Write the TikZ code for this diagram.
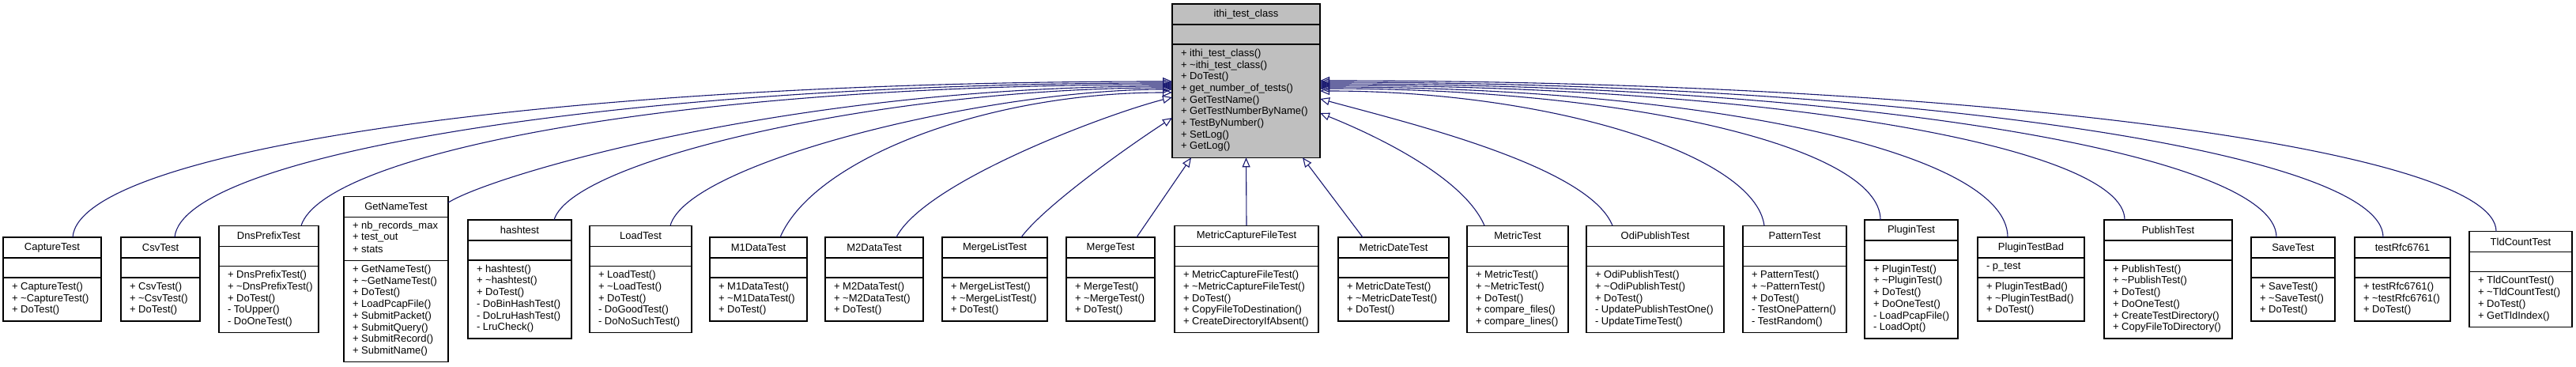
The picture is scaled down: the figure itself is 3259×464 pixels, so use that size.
\documentclass[tikz,border=0pt]{standalone}
\usepackage{fontspec}
\setmainfont{Liberation Sans}
\usetikzlibrary{calc,arrows.meta}
\definecolor{edgec}{HTML}{191970}
\definecolor{basefill}{HTML}{BFBFBF}
\newcommand\tld{\textasciitilde}
\tikzset{
  clsbox/.style={draw=black,line width=0.65pt,fill=white,inner sep=0pt,outer sep=0pt,rectangle},
  clsline/.style={draw=black,line width=0.65pt},
  clstitle/.style={inner sep=0pt,outer sep=0pt,anchor=center,font=\fontsize{6.5pt}{7.35pt}\selectfont},
  clsmem/.style={inner sep=0pt,outer sep=0pt,anchor=west,font=\fontsize{6.5pt}{7.35pt}\selectfont},
  inh/.style={draw=edgec,line width=0.55pt,-{Triangle[open,length=6pt,width=5pt]}}
}
% #1 options, #2 name, #3 centre, #4 width, #5 second separator, #6 number of methods, #7 title, #8 attributes, #9 methods
\newcommand\umlclass[9][]{%
  \node[clsbox,#1,minimum width={0.5*#4},minimum height={0.5*(#5+#6*14.7+11)}] (#2) at (#3) {};
  \node[clstitle] (#2-t) at ($(#2.north)+(0,13)$) {#7};
  \draw[clsline] ($(#2.north west)+(0,26)$) -- ($(#2.north east)+(0,26)$);
  \draw[clsline] ($(#2.north west)+(0,#5)$) -- ($(#2.north east)+(0,#5)$);
  \if\relax\detokenize{#8}\relax\else
    \foreach \mtext [count=\i from 0] in {#8} {\node[clsmem] (#2-a\i) at ($(#2.north west)+(11,38+\i*14.7)$) {\mtext};}
  \fi
  \foreach \mtext [count=\i from 0] in {#9} {\node[clsmem] (#2-m\i) at ($(#2.north west)+(11,#5+12+\i*14.7)$) {\mtext};}
}
\begin{document}
\begin{tikzpicture}[x=0.5pt,y=-0.5pt]
\useasboundingbox (0,0) rectangle (3259,464);
\umlclass[fill=basefill]{base}{1576.5,102.15}{187}{51}{9}{ithi\_test\_class}{}{+ ithi\_test\_class(),+ \tld ithi\_test\_class(),+ DoTest(),+ get\_number\_of\_tests(),+ GetTestName(),+ GetTestNumberByName(),+ TestByNumber(),+ SetLog(),+ GetLog()}
\umlclass{capture}{66,353}{124}{51}{3}{CaptureTest}{}{+ CaptureTest(),+ \tld CaptureTest(),+ DoTest()}
\umlclass{csv}{203,353}{100}{51}{3}{CsvTest}{}{+ CsvTest(),+ \tld CsvTest(),+ DoTest()}
\umlclass{dns}{340,353}{126}{51}{5}{DnsPrefixTest}{}{+ DnsPrefixTest(),+ \tld DnsPrefixTest(),+ DoTest(),- ToUpper(),- DoOneTest()}
\umlclass{getname}{501,353}{132}{81}{8}{GetNameTest}{+ nb\_records\_max,+ test\_out,+ stats}{+ GetNameTest(),+ \tld GetNameTest(),+ DoTest(),+ LoadPcapFile(),+ SubmitPacket(),+ SubmitQuery(),+ SubmitRecord(),+ SubmitName()}
\umlclass{hash}{657.5,353}{131}{51}{6}{hashtest}{}{+ hashtest(),+ \tld hashtest(),+ DoTest(),- DoBinHashTest(),- DoLruHashTest(),- LruCheck()}
\umlclass{load}{810.5,353}{129}{51}{5}{LoadTest}{}{+ LoadTest(),+ \tld LoadTest(),+ DoTest(),- DoGoodTest(),- DoNoSuchTest()}
\umlclass{mone}{959.5,353}{123}{51}{3}{M1DataTest}{}{+ M1DataTest(),+ \tld M1DataTest(),+ DoTest()}
\umlclass{mtwo}{1106,353}{124}{51}{3}{M2DataTest}{}{+ M2DataTest(),+ \tld M2DataTest(),+ DoTest()}
\umlclass{mergelist}{1258.5,353}{133}{51}{3}{MergeListTest}{}{+ MergeListTest(),+ \tld MergeListTest(),+ DoTest()}
\umlclass{merge}{1405,353}{112}{51}{3}{MergeTest}{}{+ MergeTest(),+ \tld MergeTest(),+ DoTest()}
\umlclass{mcf}{1577,353}{182}{51}{5}{MetricCaptureFileTest}{}{+ MetricCaptureFileTest(),+ \tld MetricCaptureFileTest(),+ DoTest(),+ CopyFileToDestination(),+ CreateDirectoryIfAbsent()}
\umlclass{mdate}{1763,353}{140}{51}{3}{MetricDateTest}{}{+ MetricDateTest(),+ \tld MetricDateTest(),+ DoTest()}
\umlclass{metric}{1920,353}{128}{51}{5}{MetricTest}{}{+ MetricTest(),+ \tld MetricTest(),+ DoTest(),+ compare\_files(),+ compare\_lines()}
\umlclass{odi}{2094,353}{174}{51}{5}{OdiPublishTest}{}{+ OdiPublishTest(),+ \tld OdiPublishTest(),+ DoTest(),- UpdatePublishTestOne(),- UpdateTimeTest()}
\umlclass{pattern}{2270.5,353}{131}{51}{5}{PatternTest}{}{+ PatternTest(),+ \tld PatternTest(),+ DoTest(),- TestOnePattern(),- TestRandom()}
\umlclass{plugin}{2418,353}{118}{51}{6}{PluginTest}{}{+ PluginTest(),+ \tld PluginTest(),+ DoTest(),+ DoOneTest(),- LoadPcapFile(),- LoadOpt()}
\umlclass{pluginbad}{2569.5,353}{135}{51}{3}{PluginTestBad}{- p\_test}{+ PluginTestBad(),+ \tld PluginTestBad(),+ DoTest()}
\umlclass{publish}{2743,353}{162}{51}{6}{PublishTest}{}{+ PublishTest(),+ \tld PublishTest(),+ DoTest(),+ DoOneTest(),+ CreateTestDirectory(),+ CopyFileToDirectory()}
\umlclass{save}{2901,353}{106}{51}{3}{SaveTest}{}{+ SaveTest(),+ \tld SaveTest(),+ DoTest()}
\umlclass{rfc}{3039.5,353}{121}{51}{3}{testRfc6761}{}{+ testRfc6761(),+ \tld testRfc6761(),+ DoTest()}
\umlclass{tldc}{3189,353}{130}{51}{4}{TldCountTest}{}{+ TldCountTest(),+ \tld TldCountTest(),+ DoTest(),+ GetTldIndex()}
% left-side edges
\draw[inh] ($(capture.north west)+(88,0)$) .. controls (100,190) and (700,103) .. ($(base.north west)+(0,98)$);
\draw[inh] ($(csv.north west)+(68,0)$) .. controls (231,195) and (790,105) .. ($(base.north west)+(0,100)$);
\draw[inh] ($(dns.north west)+(104,0)$) .. controls (410,195) and (850,107) .. ($(base.north west)+(0,102)$);
\draw[inh] ($(getname.north east)+(0,8)$) .. controls (620,222) and (1000,109) .. ($(base.north west)+(0,104)$);
\draw[inh] ($(hash.north west)+(109,0)$) .. controls (725,200) and (1130,111) .. ($(base.north west)+(0,106)$);
\draw[inh] ($(load.north west)+(102,0)$) .. controls (870,205) and (1250,113) .. ($(base.north west)+(0,108)$);
\draw[inh] ($(mone.north west)+(89,0)$) .. controls (1030,200) and (1250,117) .. ($(base.north west)+(0,112)$);
\draw[inh] ($(mtwo.north west)+(90,0)$) .. controls (1170,230) and (1400,144) .. ($(base.north west)+(0,118)$);
\draw[inh] ($(mergelist.north west)+(100,0)$) .. controls (1320,262) and (1420,190) .. ($(base.north west)+(0,144)$);
% bottom edges
\draw[inh] ($(merge.north west)+(89,0)$) -- ($(base.south west)+(24,0)$);
\draw[inh] (mcf.north) -- (base.south);
\draw[inh] ($(mdate.north west)+(31,0)$) -- ($(base.south east)+(-22,0)$);
% right-side edges
\draw[inh] ($(metric.north west)+(22,0)$) .. controls (1850,220) and (1725,165) .. ($(base.north east)+(0,138)$);
\draw[inh] ($(odi.north west)+(33,0)$) .. controls (2010,210) and (1780,155) .. ($(base.north east)+(0,120)$);
\draw[inh] ($(pattern.north west)+(27,0)$) .. controls (2220,195) and (1960,115) .. ($(base.north east)+(0,110)$);
\draw[inh] ($(plugin.north west)+(20,0)$) .. controls (2379,186) and (2060,112) .. ($(base.north east)+(0,107)$);
\draw[inh] ($(pluginbad.north west)+(38,0)$) .. controls (2540,190) and (2148,110) .. ($(base.north east)+(0,105)$);
\draw[inh] ($(publish.north west)+(26,0)$) .. controls (2688,184) and (2230,108) .. ($(base.north east)+(0,103)$);
\draw[inh] ($(save.north west)+(32,0)$) .. controls (2880,193) and (2335,106) .. ($(base.north east)+(0,101)$);
\draw[inh] ($(rfc.north west)+(36,0)$) .. controls (3015,192) and (2410,104) .. ($(base.north east)+(0,99)$);
\draw[inh] ($(tldc.north west)+(34,0)$) .. controls (3158,188) and (2490,102) .. ($(base.north east)+(0,97)$);
\end{tikzpicture}
\end{document}
